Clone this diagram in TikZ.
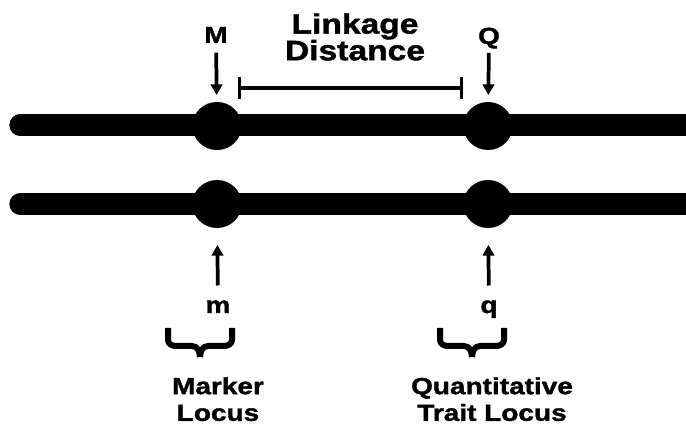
\documentclass[tikz,border=0pt]{standalone}
\usepackage{fontspec}
\setmainfont{Liberation Sans}[FakeStretch=1.2,BoldFeatures={FakeBold=1.5}]
\usetikzlibrary{arrows.meta,shapes.geometric}

\begin{document}
\begin{tikzpicture}[x=0.75pt,y=0.75pt,
  chrom/.style={line width=16pt,line cap=round},
  locus/.style={ellipse,fill,inner sep=0pt,minimum width=37pt,minimum height=36pt},
  lbl/.style={inner sep=0pt,font=\fontsize{17.5}{20}\selectfont\bfseries,align=center},
  pointer/.style={line width=2.8pt,-{Triangle[length=8pt,width=8.5pt]}},
  grp/.pic={\draw [line width=4.5pt,line join=round]
      (-32,18) -- (-32,6) to [out=-90,in=180] (-24,0) -- (-8,0) to [out=0,in=90] (0,-11)
      (32,18) -- (32,6) to [out=-90,in=0] (24,0) -- (8,0) to [out=180,in=90] (0,-11);}]
  \clip (0,0) rectangle (686,425);
  % the two homologous chromosomes
  \draw [chrom] (20,300) -- (720,300);
  \draw [chrom] (20,221) -- (720,221);
  \node [locus] (M1) at (217,299) {};
  \node [locus] (Q1) at (488,299) {};
  \node [locus] (m2) at (217,221) {};
  \node [locus] (q2) at (488,221) {};
  % alleles on top
  \node [lbl,anchor=base] (M) at (216,382) {M};
  \node [lbl,anchor=base] (Q) at (489,381) {Q};
  \draw [pointer,shorten <=7pt,shorten >=5pt] (M) -- (M1);
  \draw [pointer,shorten <=3pt,shorten >=5pt] (Q) -- (Q1);
  \node [lbl,anchor=north,font=\fontsize{21}{20}\selectfont\bfseries] (link) at (355,412) {Linkage\\Distance};
  \coordinate (dl) at (238,337);
  \coordinate (dr) at (463,337);
  \draw [line width=2.4pt,{Bar[width=17pt]}-{Bar[width=17pt]}] (dl) -- (dr);
  % alleles below
  \node [lbl,anchor=base] (m) at (218,112) {m};
  \node [lbl,anchor=base] (q) at (489,112) {q};
  \draw [pointer,shorten <=11pt,shorten >=12.5pt] (m) -- (m2);
  \draw [pointer,shorten <=11pt,shorten >=12.5pt] (q) -- (q2);
  \pic at (200,79) {grp};
  \pic at (472,79) {grp};
  \node [lbl,anchor=north] (mloc) at (218,48) {Marker\\Locus};
  \node [lbl,anchor=north] (qloc) at (492,48) {Quantitative\\Trait Locus};
\end{tikzpicture}
\end{document}
